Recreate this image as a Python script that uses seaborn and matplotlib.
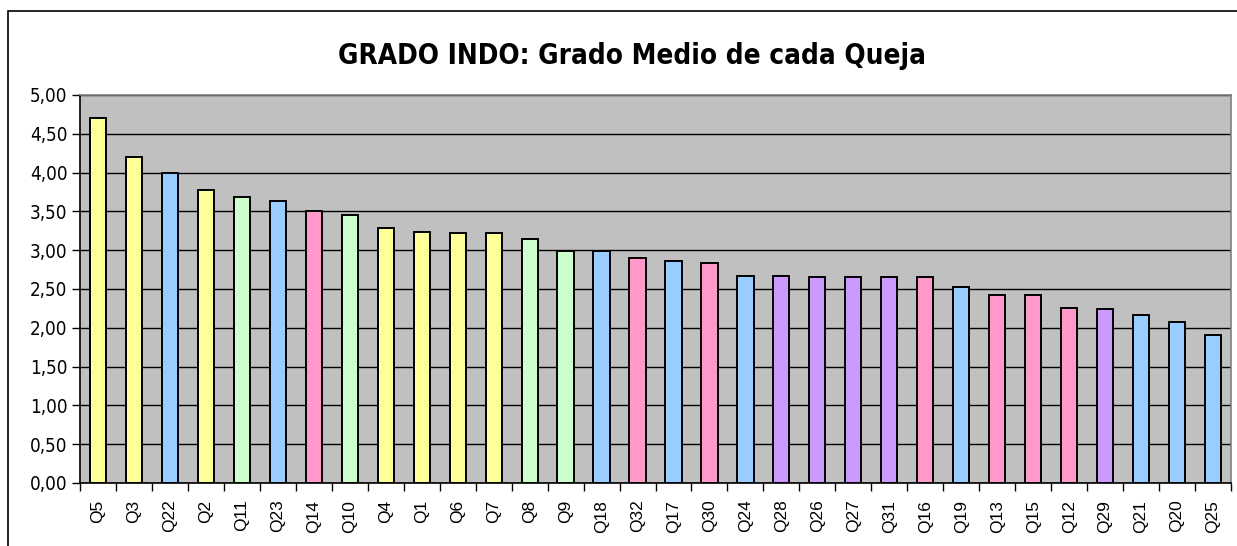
import matplotlib
matplotlib.use('Agg')
import matplotlib.pyplot as plt
import seaborn as sns
import pandas as pd
from matplotlib.patches import Rectangle
from matplotlib.ticker import FuncFormatter, FixedLocator

# datos
preguntas = ['Q5', 'Q3', 'Q22', 'Q2', 'Q11', 'Q23', 'Q14', 'Q10', 'Q4', 'Q1', 'Q6',
             'Q7', 'Q8', 'Q9', 'Q18', 'Q32', 'Q17', 'Q30', 'Q24', 'Q28', 'Q26', 'Q27',
             'Q31', 'Q16', 'Q19', 'Q13', 'Q15', 'Q12', 'Q29', 'Q21', 'Q20', 'Q25']
grado_medio = [4.71, 4.20, 4.00, 3.78, 3.68, 3.63, 3.50, 3.45, 3.29, 3.24, 3.22,
               3.22, 3.14, 2.99, 2.99, 2.90, 2.86, 2.83, 2.67, 2.67, 2.65, 2.65,
               2.65, 2.65, 2.52, 2.42, 2.42, 2.26, 2.24, 2.16, 2.08, 1.91]
grupo = ['G1', 'G1', 'G2', 'G1', 'G3', 'G2', 'G4', 'G3', 'G1', 'G1', 'G1',
         'G1', 'G3', 'G3', 'G2', 'G4', 'G2', 'G4', 'G2', 'G5', 'G5', 'G5',
         'G5', 'G4', 'G2', 'G4', 'G4', 'G4', 'G5', 'G2', 'G2', 'G2']

colores = {'G1': '#FFFF99', 'G2': '#99CCFF', 'G3': '#CCFFCC',
           'G4': '#FF99CC', 'G5': '#CC99FF'}

df = pd.DataFrame({'Queja': preguntas, 'Grado': grado_medio, 'Grupo': grupo})

sns.set_theme(style="white", rc={"xtick.color": "black", "ytick.color": "black",
                                 "xtick.labelcolor": "black", "ytick.labelcolor": "black"})
plt.rcParams['font.family'] = ['DejaVu Sans']

fig = plt.figure(figsize=(12.37, 5.46), dpi=100)
ax = fig.add_axes([80 / 1237, 1 - 483 / 546, (1231 - 80) / 1237, (483 - 95) / 546])
ax.set_facecolor('#C0C0C0')

sns.barplot(data=df, x='Queja', y='Grado', hue='Grupo', palette=colores,
            dodge=False, width=0.45, saturation=1, edgecolor='black', linewidth=1.4,
            legend=False, ax=ax, zorder=3)

ax.set_ylim(0, 5)
ax.set_xlim(-0.5, len(preguntas) - 0.5)
ax.set_yticks([i * 0.5 for i in range(11)])
ax.yaxis.set_major_formatter(FuncFormatter(lambda v, p: f"{v:.2f}".replace('.', ',')))
ax.grid(axis='y', color='black', linewidth=1.0, zorder=0)
ax.set_axisbelow(True)

# marcas del eje x entre categorias
ax.xaxis.set_minor_locator(FixedLocator([i - 0.5 for i in range(len(preguntas) + 1)]))
ax.tick_params(axis='x', which='major', length=0, pad=12, labelsize=12.5, rotation=90,
               labelcolor='black')
ax.tick_params(axis='x', which='minor', length=6, width=1, color='black', direction='out', bottom=True)
ax.tick_params(axis='y', length=6, width=1, color='black', direction='out', left=True,
               labelsize=13.5, pad=3, labelcolor='black')
for lbl in ax.get_xticklabels():
    lbl.set_fontfamily(['Liberation Sans', 'DejaVu Sans'])
for lbl in ax.get_yticklabels():
    lbl.set_fontstretch('condensed')

ax.set_xlabel('')
ax.set_ylabel('')
for s in ['left', 'bottom']:
    ax.spines[s].set_color('black')
    ax.spines[s].set_linewidth(1.2)
for s in ['top', 'right']:
    ax.spines[s].set_color('#808080')
    ax.spines[s].set_linewidth(1.2)

# marco exterior del grafico
fig.patches.append(Rectangle((8 / 1237, -0.05), 1.1, 1 - 10.7 / 546 + 0.05,
                             transform=fig.transFigure, fill=False,
                             edgecolor='black', linewidth=1.2))

fig.text(632 / 1237, 1 - 56 / 546, 'GRADO INDO: Grado Medio de cada Queja',
         ha='center', va='center', fontsize=20, fontweight='bold', color='black',
         fontstretch='condensed')

fig.savefig('out.png', dpi=100, facecolor='white')
